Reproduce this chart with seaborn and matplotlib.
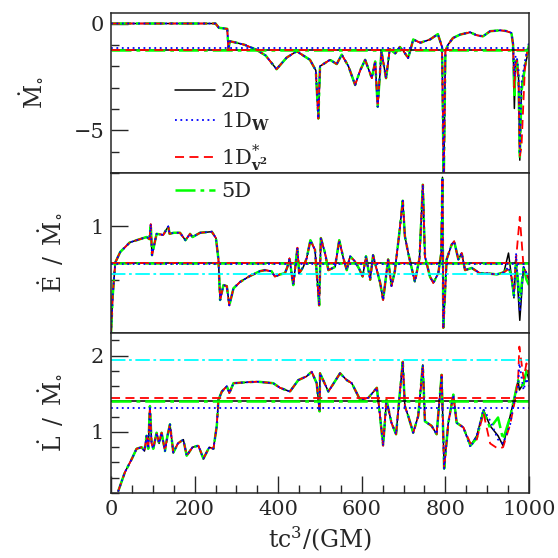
import matplotlib
matplotlib.use("Agg")
import matplotlib.pyplot as plt
import seaborn as sns
from matplotlib.ticker import MultipleLocator
from matplotlib.lines import Line2D

# ---- data ----
models = ["2D", "1DW", "1Dv2", "5D"]

t_mdot = [0, 250, 258, 278, 281, 284, 300, 320, 348, 370, 396, 420, 444, 460, 476, 490,
          496, 500, 512, 524, 540, 552, 568, 584, 596, 608, 624, 632, 638, 647, 658, 667,
          680, 691, 700, 711, 723, 740, 763, 782, 792, 796, 800, 806, 818, 835, 859, 875,
          890, 907, 931, 945, 958, 962, 965, 968, 971, 975, 978, 982, 990, 995, 1000]
mdot_common = [0, 0, -0.2, -0.25, -1.2, -0.83, -0.9, -1.0, -1.23, -1.5, -2.14, -1.6, -1.3,
               -1.5, -1.7, -2.2, -4.45, -2.0, -1.85, -1.7, -1.9, -1.46, -2.0, -2.88, -2.2,
               -1.7, -2.56, -1.78, -3.9, -1.3, -2.56, -1.2, -1.4, -1.1, -1.3, -1.62, -0.75,
               -0.9, -0.75, -0.5, -1.1, -7.5, -1.3, -1.0, -0.68, -0.52, -0.41, -0.55, -0.6,
               -0.36, -0.32, -0.35, -0.44]
mdot_2d = mdot_common + [-1.0, -3.98, -1.8, -1.7, -2.5, -6.4, -3.0, -2.0, -1.6, -1.0]
mdot_1dw = mdot_common + [-0.9, -2.5, -1.5, -1.6, -2.2, -6.0, -2.8, -1.8, -1.3, -0.9]
mdot_1dv = mdot_common + [-1.0, -3.0, -1.9, -1.7, -2.8, -6.2, -5.8, -2.2, -1.4, -1.1]
mdot_5d = mdot_common + [-1.0, -3.5, -1.8, -1.7, -2.6, -6.3, -3.2, -2.1, -1.5, -1.0]

t_edot = [0, 4, 10, 22, 45, 69, 85, 92, 95, 98, 109, 125, 137, 140, 150, 165, 178, 189,
          195, 213, 241, 251, 257, 261, 269, 277, 283, 293, 309, 330, 356, 368, 384, 392,
          404, 416, 422, 427, 436, 446, 450, 460, 468, 477, 488, 498, 502, 512, 520, 536,
          546, 556, 564, 572, 584, 594, 602, 610, 620, 627, 636, 644, 651, 663, 671, 679,
          689, 698, 703, 711, 727, 738, 746, 751, 763, 771, 783, 790, 793, 795, 803, 815,
          821, 831, 839, 847, 863, 883, 899, 923, 940, 951, 958, 964, 969, 978, 987, 994,
          1000]
edot_common = [0.0, 0.35, 0.66, 0.76, 0.85, 0.88, 0.90, 0.88, 1.02, 0.73,
               0.93, 0.92, 1.0, 0.93, 0.94, 0.94, 0.87, 0.93, 0.90, 0.94,
               0.95, 0.89, 0.69, 0.31, 0.45, 0.44, 0.26, 0.42, 0.48, 0.53,
               0.58, 0.59, 0.58, 0.53, 0.55, 0.56, 0.62, 0.70, 0.45, 0.80,
               0.56, 0.62, 0.70, 0.87, 0.78, 0.26, 0.89, 0.75, 0.59, 0.62,
               0.87, 0.70, 0.59, 0.72, 0.67, 0.60, 0.53, 0.72, 0.50, 0.73,
               0.59, 0.47, 0.31, 0.69, 0.44, 0.58, 0.91, 1.24, 0.91, 0.75,
               0.48, 0.70, 1.39, 0.72, 0.53, 0.47, 0.56, 0.75, 1.46, 0.05,
               0.69, 0.83, 0.86, 0.69, 0.75, 0.59, 0.61, 0.56, 0.56, 0.55,
               0.57]
edot_2d = edot_common + [0.75, 0.53, 0.33, 0.69, 0.12, 0.62, 0.56, 0.50]
edot_1dw = edot_common + [0.62, 0.53, 0.35, 0.75, 0.20, 0.62, 0.56, 0.52]
edot_1dv = edot_common + [0.60, 0.53, 0.40, 0.69, 1.09, 0.62, 0.56, 0.50]
edot_5d = edot_common + [0.62, 0.53, 0.35, 0.69, 0.30, 0.62, 0.50, 0.45]

t_ldot = [17, 33, 50, 61, 73, 80, 85, 89, 93, 97, 101, 109, 115, 121, 129, 135, 141, 149,
          160, 173, 181, 195, 209, 221, 235, 245, 253, 257, 265, 277, 283, 293, 320, 349,
          388, 404, 428, 448, 468, 480, 492, 499, 500, 520, 548, 564, 576, 596, 616, 636,
          642, 651, 659, 671, 682, 691, 698, 703, 711, 723, 735, 746, 751, 767, 779, 791,
          797, 807, 819, 827, 843, 860, 875, 891, 907, 926, 938, 955, 966, 974, 977, 987,
          994, 1000]
ldot_common = [0.22, 0.47, 0.65, 0.78, 0.80, 0.75, 0.95, 0.78, 1.34, 0.85,
               0.78, 0.99, 0.85, 0.99, 0.75, 0.95, 1.10, 0.73, 0.85, 0.90,
               0.69, 0.80, 0.82, 0.65, 0.80, 0.78, 1.08, 1.42, 1.53, 1.60,
               1.51, 1.64, 1.65, 1.66, 1.64, 1.58, 1.53, 1.68, 1.73, 1.79,
               1.64, 1.27, 1.77, 1.53, 1.77, 1.68, 1.64, 1.42, 1.45, 1.58,
               1.29, 0.82, 1.42, 1.12, 0.97, 1.51, 1.92, 1.34, 1.21, 0.99,
               1.21, 1.88, 1.14, 1.08, 0.97, 1.75, 0.52, 1.12, 1.49, 1.12,
               1.06]
ldot_2d = ldot_common + [0.82, 0.95, 1.29, 1.08, 0.95, 0.82, 1.21, 1.47, 1.68, 1.55, 1.64, 1.81, 1.68]
ldot_1dw = ldot_common + [0.80, 0.95, 1.30, 1.15, 0.90, 0.85, 1.10, 1.45, 1.60, 1.90, 1.55, 1.70, 1.60]
ldot_1dv = ldot_common + [0.85, 0.90, 1.25, 0.85, 0.78, 0.80, 1.10, 1.40, 1.70, 2.12, 1.70, 1.90, 1.75]
ldot_5d = ldot_common + [0.82, 0.92, 1.27, 1.05, 1.19, 0.90, 1.20, 1.47, 1.68, 1.60, 1.62, 1.80, 1.70]

# steady-state reference levels (2D, 1DW, 1Dv2, 5D) and the extra cyan level
mdot_ref = [-1.26, -1.15, -1.26, -1.26]
edot_ref = [0.655, 0.65, 0.655, 0.66]
ldot_ref = [1.41, 1.32, 1.44, 1.41]
edot_cyan = 0.55
ldot_cyan = 1.94

legend_labels = ["2D", r"1D$_{\mathbf{W}}$", r"1D$^{*}_{\mathbf{v^2}}$", "5D"]

# ---- style ----
sns.set_style("ticks")
plt.rcParams["font.family"] = ["DejaVu Serif"]
plt.rcParams["mathtext.fontset"] = "dejavuserif"
plt.rcParams["axes.linewidth"] = 1.1

styles = {
    "2D": dict(color="black", lw=1.1, linestyle="-"),
    "1DW": dict(color="#0000ff", lw=1.3, linestyle=(0, (1, 2))),
    "1Dv2": dict(color="#ff0000", lw=1.3, linestyle=(0, (5, 3))),
    "5D": dict(color="#00ff00", lw=1.8, linestyle=(0, (8, 2, 1.5, 2))),
}
draw_order = ["2D", "5D", "1Dv2", "1DW"]

fig = plt.figure(figsize=(5.58, 5.58), dpi=100)
left, width = 0.199, 0.749
ax1 = fig.add_axes([left, 0.690, width, 0.287])
ax2 = fig.add_axes([left, 0.403, width, 0.287])
ax3 = fig.add_axes([left, 0.1165, width, 0.287])

panels = [
    (ax1, t_mdot, dict(zip(models, [mdot_2d, mdot_1dw, mdot_1dv, mdot_5d])), mdot_ref, None),
    (ax2, t_edot, dict(zip(models, [edot_2d, edot_1dw, edot_1dv, edot_5d])), edot_ref, edot_cyan),
    (ax3, t_ldot, dict(zip(models, [ldot_2d, ldot_1dw, ldot_1dv, ldot_5d])), ldot_ref, ldot_cyan),
]

for ax, t, series, refs, cyan in panels:
    for m in draw_order:
        sns.lineplot(x=t, y=series[m], ax=ax, estimator=None, sort=False, legend=False,
                     **styles[m])
    for m in draw_order:
        ax.axhline(refs[models.index(m)], **styles[m])
    if cyan is not None:
        ax.axhline(cyan, color="#00ffff", lw=1.3, linestyle=(0, (8, 2, 1.5, 2)))
    ax.set_xlim(0, 1000)
    ax.xaxis.set_major_locator(MultipleLocator(200))
    ax.xaxis.set_minor_locator(MultipleLocator(50))
    ax.tick_params(which="both", direction="in", labelsize=15, width=1.0, top=False, right=False)
    ax.tick_params(which="major", length=12, pad=5)
    ax.tick_params(which="minor", length=5.5)
    ax.set_xlabel("")

ax1.set_ylim(-7, 0.5)
ax1.yaxis.set_major_locator(MultipleLocator(5))
ax1.yaxis.set_minor_locator(MultipleLocator(1))
ax2.set_ylim(0, 1.5)
ax2.yaxis.set_major_locator(MultipleLocator(1))
ax2.yaxis.set_minor_locator(MultipleLocator(0.5))
ax3.set_ylim(0.2, 2.3)
ax3.yaxis.set_major_locator(MultipleLocator(1))
ax3.yaxis.set_minor_locator(MultipleLocator(0.2))

for ax in (ax1, ax2):
    ax.tick_params(axis="x", which="both", bottom=False, labelbottom=False)

ax1.set_yticks([0, -5])
ax1.set_yticklabels(["0", "\u22125"])
ax2.set_yticks([1])
ax3.set_yticks([1, 2])

ax1.set_ylabel(r"$\dot{\rm M}_{\circ}$", fontsize=17)
ax2.set_ylabel(r"$\dot{\rm E}\ \,/\ \,\dot{\rm M}_{\circ}$", fontsize=17)
ax3.set_ylabel(r"$\dot{\rm L}\ \,/\ \,\dot{\rm M}_{\circ}$", fontsize=17)
ax1.yaxis.set_label_coords(-0.158, 0.5)
ax2.yaxis.set_label_coords(-0.11, 0.5)
ax3.yaxis.set_label_coords(-0.11, 0.5)
ax3.set_xlabel(r"tc$^3$/(GM)", fontsize=17, labelpad=4)

handles = [Line2D([], [], **styles[m]) for m in models]
fig.legend(handles, legend_labels, loc="upper left", bbox_to_anchor=(0.295, 0.872),
           frameon=False, fontsize=15, handlelength=1.9, handletextpad=0.3,
           labelspacing=0.45, borderpad=0)

fig.savefig("out.png", dpi=100)
